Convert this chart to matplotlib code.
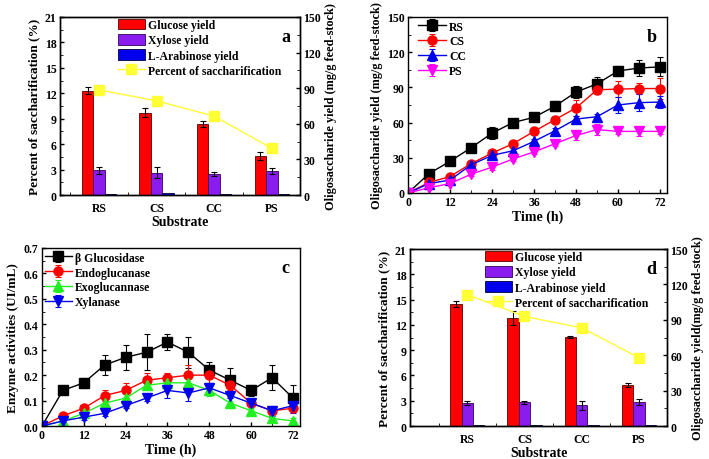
import matplotlib.pyplot as plt
import numpy as np
from matplotlib.ticker import MultipleLocator

# ---------------------------------------------------------------- data
substrates = ["RS", "CS", "CC", "PS"]

# panel a (sugar yields in % scale of the left axis, line in %)
a_glucose = [12.3, 9.7, 8.4, 4.6]
a_glucose_err = [0.4, 0.55, 0.35, 0.45]
a_xylose = [2.9, 2.65, 2.5, 2.8]
a_xylose_err = [0.45, 0.7, 0.2, 0.35]
a_arabinose = [0.1, 0.2, 0.1, 0.1]
a_percent = [12.4, 11.1, 9.3, 5.5]

# panel d
d_glucose = [14.5, 12.8, 10.6, 4.85]
d_glucose_err = [0.35, 0.8, 0.1, 0.2]
d_xylose = [2.75, 2.8, 2.45, 2.85]
d_xylose_err = [0.25, 0.2, 0.55, 0.4]
d_arabinose = [0.1, 0.1, 0.1, 0.1]
d_percent = [15.6, 13.0, 11.65, 8.1]

# panel b: oligosaccharide yield vs time
time_h = [0, 6, 12, 18, 24, 30, 36, 42, 48, 54, 60, 66, 72]
b_rs = [0, 16.5, 27, 38.5, 51, 60, 64.5, 74, 86, 93, 104, 106.5, 107.5]
b_rs_err = [0, 1, 1.5, 1.5, 5, 2.5, 2, 4, 5, 6, 4, 7, 8]
b_cs = [0, 9, 14, 25, 34, 42, 52.5, 62.5, 72.5, 88, 88.5, 89, 89]
b_cs_err = [0, 1, 1.5, 1.5, 2, 2, 3, 2, 7, 4, 7, 5, 9]
b_cc = [0, 8, 11, 24, 32, 36, 44, 53, 63, 65, 75, 77, 77.5]
b_cc_err = [0, 1, 1.5, 2, 2, 2, 2, 2, 3, 2, 7, 7, 5]
b_ps = [0, 4.5, 8, 16, 22, 29, 35, 42, 49, 54, 52.5, 52.5, 52.5]
b_ps_err = [0, 1, 1.5, 1.5, 2, 2, 2, 2, 4, 5, 2, 4, 2]

# panel c: enzyme activities vs time
c_bg = [0, 0.14, 0.17, 0.24, 0.27, 0.29, 0.33, 0.29, 0.22, 0.18, 0.14, 0.19, 0.11]
c_bg_err = [0, 0.01, 0.02, 0.04, 0.05, 0.07, 0.03, 0.06, 0.03, 0.05, 0.02, 0.05, 0.05]
c_endo = [0, 0.04, 0.07, 0.12, 0.14, 0.18, 0.19, 0.20, 0.20, 0.16, 0.09, 0.06, 0.07]
c_endo_err = [0, 0.01, 0.01, 0.02, 0.03, 0.03, 0.02, 0.04, 0.03, 0.02, 0.01, 0.01, 0.01]
c_exo = [0, 0.02, 0.05, 0.09, 0.11, 0.16, 0.17, 0.17, 0.14, 0.09, 0.06, 0.03, 0.02]
c_exo_err = [0, 0.01, 0.01, 0.02, 0.02, 0.02, 0.02, 0.02, 0.02, 0.02, 0.01, 0.01, 0.01]
c_xyl = [0, 0.02, 0.035, 0.05, 0.08, 0.11, 0.14, 0.13, 0.15, 0.12, 0.09, 0.06, 0.08]
c_xyl_err = [0, 0.01, 0.01, 0.01, 0.01, 0.01, 0.03, 0.03, 0.02, 0.01, 0.01, 0.02, 0.03]

# ---------------------------------------------------------------- style
plt.rcParams['font.family'] = ['Liberation Serif', 'DejaVu Serif']
plt.rcParams['font.weight'] = 'bold'
plt.rcParams['axes.labelweight'] = 'bold'
plt.rcParams['xtick.direction'] = 'in'
plt.rcParams['ytick.direction'] = 'in'
plt.rcParams['axes.linewidth'] = 1.0

RED = "#ff0000"
PURPLE = "#8a1cf0"
BLUE = "#0000ee"
YELLOW = "#ffff33"

TICK_FS = 8.5
LABEL_FS = 9.5
LONG_FS = 8.8   # long "Oligosaccharide yield" labels, so they stay inside
LEG_FS = 8.5
LETTER_FS = 13

fig = plt.figure(figsize=(7.09, 4.6), dpi=100)


def style_ticks(ax):
    ax.tick_params(labelsize=TICK_FS, width=1, length=3, pad=2.5)
    ax.tick_params(which='minor', length=2)
    for lab in ax.get_xticklabels() + ax.get_yticklabels():
        lab.set_fontweight('bold')


def bar_panel(rect, glucose, gerr, xylose, xerr, arab, percent, xlim, letter,
              right_label, leg_x, leg_y):
    ax = fig.add_axes(rect)
    x = np.arange(1, len(substrates) + 1)
    w = 0.2
    ekw = dict(elinewidth=0.8, capthick=0.8)
    h1 = ax.bar(x - w, glucose, w, yerr=gerr, color=RED, edgecolor="#550000",
                linewidth=0.6, capsize=2, error_kw=ekw, label="Glucose yield")
    h2 = ax.bar(x, xylose, w, yerr=xerr, color=PURPLE, edgecolor="#330055",
                linewidth=0.6, capsize=2, error_kw=ekw, label="Xylose yield")
    h3 = ax.bar(x + w, arab, w, color=BLUE, edgecolor="#000033", linewidth=0.6,
                label="L-Arabinose yield")
    h4, = ax.plot(x, percent, color=YELLOW, marker='s', markersize=7,
                  linewidth=1.0, label="Percent of saccharification")
    ax.set_xlim(*xlim)
    ax.set_ylim(0, 21)
    ax.yaxis.set_major_locator(MultipleLocator(3))
    ax.yaxis.set_minor_locator(MultipleLocator(1.5))
    ax.set_xticks(x)
    ax.set_xticklabels(substrates)
    ax.xaxis.set_minor_locator(MultipleLocator(0.5))
    ax.set_xlabel("Substrate", fontsize=LABEL_FS + 0.5, labelpad=1)
    ax.set_ylabel("Percent of saccharification (%)", fontsize=LABEL_FS,
                  labelpad=3)
    style_ticks(ax)
    ax.tick_params(axis='x', which='major', length=0, pad=5)
    ax.tick_params(right=False, which='both')

    ax2 = ax.twinx()
    ax2.set_ylim(0, 150)
    ax2.yaxis.set_major_locator(MultipleLocator(30))
    ax2.yaxis.set_minor_locator(MultipleLocator(15))
    ax2.set_ylabel(right_label, fontsize=LONG_FS, labelpad=3)
    style_ticks(ax2)

    ax.legend([h1, h2, h3, h4], [h.get_label() for h in (h1, h2, h3, h4)],
              loc='upper left', bbox_to_anchor=(leg_x, leg_y),
              frameon=False, handlelength=2.3, handleheight=1.0,
              labelspacing=0.25, borderaxespad=0.0, borderpad=0.0,
              handletextpad=0.3, prop={'weight': 'bold', 'size': LEG_FS})
    ax.text(0.96, 0.94, letter, transform=ax.transAxes, ha='right', va='top',
            fontsize=LETTER_FS, fontweight='bold')
    return ax


# ---------------------------------------------------------------- panel a
bar_panel([0.0846, 0.5739, 0.3385, 0.387], a_glucose, a_glucose_err,
          a_xylose, a_xylose_err, a_arabinose, a_percent, (0.32, 4.49), "a",
          "Oligosaccharide yield (mg/g feed-stock)", 0.24, 0.99)

# ---------------------------------------------------------------- panel d
bar_panel([0.5783, 0.0717, 0.3625, 0.3848], d_glucose, d_glucose_err,
          d_xylose, d_xylose_err, d_arabinose, d_percent, (0.0, 4.49), "d",
          "Oligosaccharide yield(mg/g feed-stock)", 0.29, 0.99)

# ---------------------------------------------------------------- panel b
axb = fig.add_axes([0.5755, 0.5783, 0.3653, 0.3826])
b_series = [
    ("RS", b_rs, b_rs_err, "black", 's'),
    ("CS", b_cs, b_cs_err, RED, 'o'),
    ("CC", b_cc, b_cc_err, BLUE, '^'),
    ("PS", b_ps, b_ps_err, "#ff00ff", 'v'),
]
for name, vals, errs, col, mk in b_series:
    axb.errorbar(time_h, vals, yerr=errs, color=col, marker=mk, markersize=6.5,
                 linewidth=1.0, capsize=2, elinewidth=0.8, capthick=0.8,
                 label=name)
axb.set_xlim(0, 74)
axb.set_ylim(0, 150)
axb.xaxis.set_major_locator(MultipleLocator(12))
axb.xaxis.set_minor_locator(MultipleLocator(6))
axb.yaxis.set_major_locator(MultipleLocator(30))
axb.yaxis.set_minor_locator(MultipleLocator(15))
axb.set_xlabel("Time (h)", fontsize=LABEL_FS + 0.5, labelpad=1)
axb.set_ylabel("Oligosaccharide yield (mg/g feed-stock)", fontsize=LONG_FS,
               labelpad=3)
style_ticks(axb)
axb.legend(loc='upper left', bbox_to_anchor=(0.04, 0.98), frameon=False,
           handlelength=2.3, labelspacing=0.25, borderaxespad=0.0,
           borderpad=0.0, handletextpad=0.3,
           prop={'weight': 'bold', 'size': LEG_FS})
axb.text(0.96, 0.94, "b", transform=axb.transAxes, ha='right', va='top',
         fontsize=LETTER_FS, fontweight='bold')

# ---------------------------------------------------------------- panel c
axc = fig.add_axes([0.0592, 0.0717, 0.3639, 0.387])
c_series = [
    ("\u03b2 Glucosidase", c_bg, c_bg_err, "black", 's'),
    ("Endoglucanase", c_endo, c_endo_err, RED, 'o'),
    ("Exoglucannase", c_exo, c_exo_err, "#22ee22", '^'),
    ("Xylanase", c_xyl, c_xyl_err, BLUE, 'v'),
]
for name, vals, errs, col, mk in c_series:
    axc.errorbar(time_h, vals, yerr=errs, color=col, marker=mk, markersize=6.5,
                 linewidth=1.0, capsize=2, elinewidth=0.8, capthick=0.8,
                 label=name)
axc.set_xlim(0, 74)
axc.set_ylim(0, 0.7)
axc.xaxis.set_major_locator(MultipleLocator(12))
axc.xaxis.set_minor_locator(MultipleLocator(6))
axc.yaxis.set_major_locator(MultipleLocator(0.1))
axc.yaxis.set_minor_locator(MultipleLocator(0.05))
axc.set_xlabel("Time (h)", fontsize=LABEL_FS + 0.5, labelpad=1)
axc.set_ylabel("Enzyme activities (UI/mL)", fontsize=LABEL_FS, labelpad=3)
style_ticks(axc)
axc.legend(loc='upper left', bbox_to_anchor=(0.01, 0.98), frameon=False,
           handlelength=2.3, labelspacing=0.25, borderaxespad=0.0,
           borderpad=0.0, handletextpad=0.3,
           prop={'weight': 'bold', 'size': LEG_FS})
axc.text(0.96, 0.94, "c", transform=axc.transAxes, ha='right', va='top',
         fontsize=LETTER_FS, fontweight='bold')

fig.savefig("out.png", dpi=100)
